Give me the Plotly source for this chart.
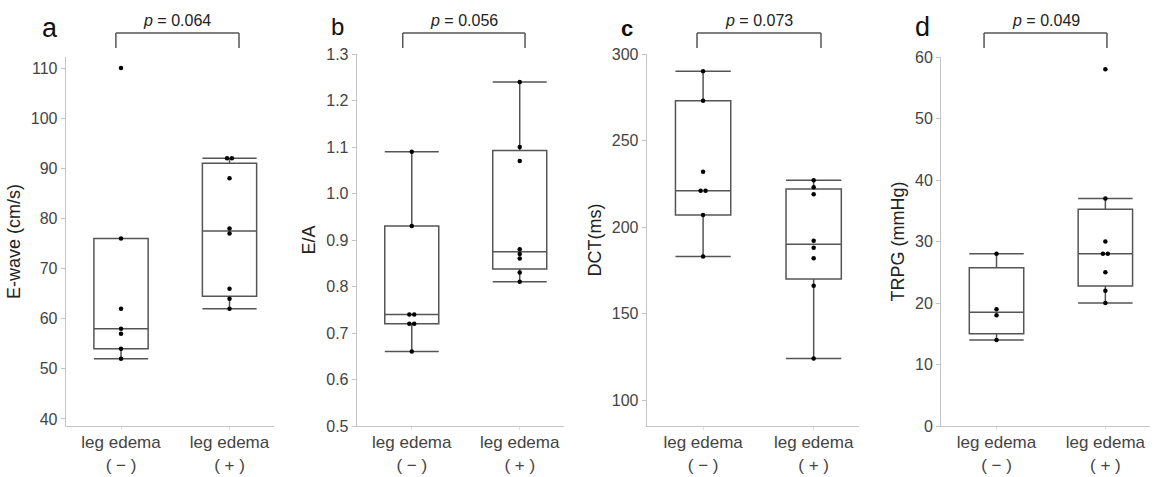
import numpy as np
import plotly.graph_objects as go

# ---------------- data ----------------
categories = ["leg edema<br>( − )", "leg edema<br>( + )"]
panel_letters = ["a", "b", "c", "d"]
y_titles = ["E-wave (cm/s)", "E/A", "DCT(ms)", "TRPG (mmHg)"]
p_values = ["0.064", "0.056", "0.073", "0.049"]

ewave_neg = [110, 76, 62, 58, 57, 54, 52]
ewave_pos = [92, 92, 88, 78, 77, 66, 64, 62]
ea_neg = [1.09, 0.93, 0.74, 0.74, 0.72, 0.72, 0.66]
ea_pos = [1.24, 1.10, 1.07, 0.88, 0.87, 0.86, 0.83, 0.81]
dct_neg = [290, 273, 232, 221, 221, 207, 183]
dct_pos = [227, 223, 219, 192, 188, 182, 166, 124]
trpg_neg = [28, 19, 18, 14]
trpg_pos = [58, 37, 30, 28, 28, 25, 22, 20]

y_ticks_a = [40, 50, 60, 70, 80, 90, 100, 110]
y_ticks_b = [0.5, 0.6, 0.7, 0.8, 0.9, 1.0, 1.1, 1.2, 1.3]
y_ticks_c = [100, 150, 200, 250, 300]
y_ticks_d = [0, 10, 20, 30, 40, 50, 60]

panels = [
    (ewave_neg, ewave_pos, y_ticks_a),
    (ea_neg, ea_pos, y_ticks_b),
    (dct_neg, dct_pos, y_ticks_c),
    (trpg_neg, trpg_pos, y_ticks_d),
]

# ---------------- style / layout ----------------
W, H = 1157, 477
x_domains = [(65.7, 274), (356.7, 564), (646.7, 859), (941, 1150)]
y_tops = [57, 54, 54, 57]
y_bottom = 426
y_ranges = [[38.6, 112.2], [0.5, 1.3], [85, 300], [0, 60]]
tick_formats = ["d", ".1f", "d", "d"]
bracket_fr = [(0.241, 0.832), (0.222, 0.812), (0.237, 0.821), (0.206, 0.794)]
letter_pos = [(50, 28, 27, False), (337, 27, 24, False), (627, 29, 22, True), (923, 27, 27, False)]

FONT = "Liberation Sans, Arial, sans-serif"
BOX_COL = "#555555"
AXIS_COL = "#c4c4c4"
TICK_FONT_COL = "#444444"


def quartile(vals, p):
    s = sorted(vals)
    n = len(s)
    pos = (n + 1) * p
    lo = int(np.floor(pos))
    frac = pos - lo
    if lo < 1:
        return s[0]
    if lo >= n:
        return s[-1]
    return s[lo - 1] + frac * (s[lo] - s[lo - 1])


def stats(vals):
    s = sorted(vals)
    q1 = quartile(s, 0.25)
    med = quartile(s, 0.5)
    q3 = quartile(s, 0.75)
    iqr = q3 - q1
    lf = min(v for v in s if v >= q1 - 1.5 * iqr)
    uf = max(v for v in s if v <= q3 + 1.5 * iqr)
    return q1, med, q3, lf, uf


def point_x(vals, center):
    xs = []
    counts = {}
    totals = {v: vals.count(v) for v in vals}
    for v in vals:
        k = totals[v]
        i = counts.get(v, 0)
        counts[v] = i + 1
        xs.append(center + (i - (k - 1) / 2) * 0.045)
    return xs


fig = go.Figure()
layout = dict(
    width=W, height=H, margin=dict(l=0, r=0, t=0, b=0, autoexpand=False),
    paper_bgcolor="white", plot_bgcolor="white", showlegend=False,
    font=dict(family=FONT, color="#333333"),
    shapes=[], annotations=[],
)

for k, (neg, pos, yt) in enumerate(panels):
    idx = "" if k == 0 else str(k + 1)
    xa, ya = "x" + idx, "y" + idx
    for ci, vals in enumerate([neg, pos]):
        q1, med, q3, lf, uf = stats(vals)
        fig.add_trace(go.Box(
            x=[ci], q1=[q1], median=[med], q3=[q3], lowerfence=[lf], upperfence=[uf],
            xaxis=xa, yaxis=ya, width=0.5, whiskerwidth=1, boxpoints=False,
            fillcolor="rgba(255,255,255,0)", line=dict(color=BOX_COL, width=1.5),
            hoverinfo="skip",
        ))
        fig.add_trace(go.Scatter(
            x=point_x(vals, ci), y=vals, mode="markers", xaxis=xa, yaxis=ya,
            marker=dict(color="black", size=4.5), hoverinfo="skip",
        ))

    x0, x1 = x_domains[k]
    layout["xaxis" + idx] = dict(
        domain=[x0 / W, x1 / W], anchor=ya, range=[-0.51, 1.41],
        tickvals=[0, 1], ticktext=categories, showline=True, linecolor=AXIS_COL,
        linewidth=1, ticks="outside", ticklen=3, tickcolor="#e0e0e0",
        ticklabelstandoff=-2, automargin=False,
        showgrid=False, zeroline=False,
        tickfont=dict(family=FONT, size=17, color=TICK_FONT_COL),
    )
    layout["yaxis" + idx] = dict(
        domain=[(H - y_bottom) / H, (H - y_tops[k]) / H], anchor=xa,
        range=y_ranges[k], tickvals=yt, tickformat=tick_formats[k],
        showline=True, linecolor=AXIS_COL, linewidth=1, ticks="outside",
        ticklen=4, tickcolor=AXIS_COL, showgrid=False, zeroline=False,
        automargin=False,
        tickfont=dict(family=FONT, size=16, color=TICK_FONT_COL),
        title=dict(text=y_titles[k], font=dict(family=FONT, size=18, color="#222222"), standoff=5),
    )

    # significance bracket
    bx0, bx1 = bracket_fr[k]
    ytop = (H - 33) / H
    yleg = (H - 48) / H
    for shp in [
        dict(x0=bx0, x1=bx1, y0=ytop, y1=ytop),
        dict(x0=bx0, x1=bx0, y0=ytop, y1=yleg),
        dict(x0=bx1, x1=bx1, y0=ytop, y1=yleg),
    ]:
        shp.update(type="line", xref=xa + " domain", yref="paper",
                   line=dict(color="#555555", width=1.5))
        layout["shapes"].append(shp)
    layout["annotations"].append(dict(
        x=(bx0 + bx1) / 2, y=(H - 21) / H, xref=xa + " domain", yref="paper",
        text="<i>p</i> = " + p_values[k], showarrow=False,
        font=dict(family=FONT, size=16, color="#222222"),
        xanchor="center", yanchor="middle",
    ))
    lx, ly, ls, bold = letter_pos[k]
    txt = "<b>%s</b>" % panel_letters[k] if bold else panel_letters[k]
    layout["annotations"].append(dict(
        x=lx / W, y=(H - ly) / H, xref="paper", yref="paper", text=txt,
        showarrow=False, font=dict(family=FONT, size=ls, color="#111111"),
        xanchor="center", yanchor="middle",
    ))

fig.update_layout(**layout)
fig.write_html("out.html")
